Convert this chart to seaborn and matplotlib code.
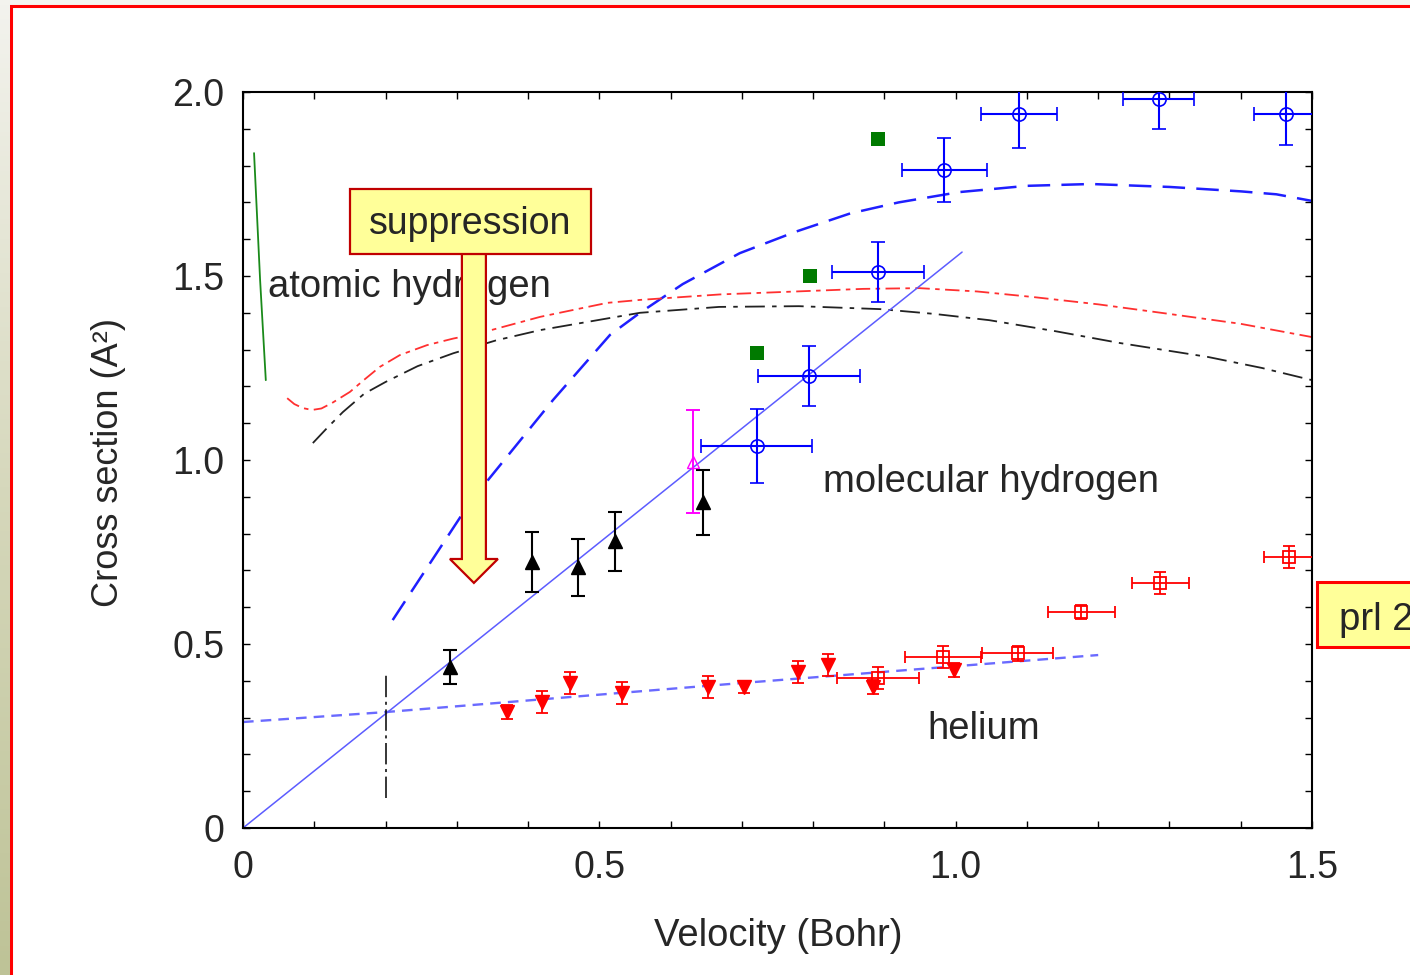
import numpy as np
import pandas as pd
import matplotlib
matplotlib.use("Agg")
import matplotlib.pyplot as plt
from matplotlib.patches import Rectangle, FancyArrow
from matplotlib.colors import LinearSegmentedColormap
from matplotlib.ticker import FixedLocator, MultipleLocator
import seaborn as sns

# ---------------- data ----------------
# molecular hydrogen, blue open circles
mol_v = [0.721, 0.794, 0.891, 0.984, 1.089, 1.285, 1.463]
mol_c = [1.038, 1.228, 1.511, 1.788, 1.940, 1.980, 1.940]
mol_verr = [0.078, 0.072, 0.065, 0.060, 0.053, 0.050, 0.045]
mol_cerr = [0.100, 0.082, 0.082, 0.088, 0.093, 0.080, 0.085]

# green squares
green_v = [0.721, 0.796, 0.891]
green_c = [1.290, 1.500, 1.872]

# black triangles
tri_v = [0.290, 0.405, 0.470, 0.522, 0.645]
tri_c = [0.437, 0.723, 0.708, 0.779, 0.885]
tri_err = [0.046, 0.082, 0.078, 0.080, 0.088]

# magenta open triangle
mag_v = [0.631]
mag_c = [0.995]
mag_err = [0.140]

# helium, red down triangles
he_v = [0.370, 0.419, 0.459, 0.532, 0.652, 0.703, 0.779, 0.821, 0.884, 0.998]
he_c = [0.315, 0.342, 0.394, 0.367, 0.383, 0.383, 0.424, 0.443, 0.383, 0.429]
he_err = [0.018, 0.030, 0.030, 0.030, 0.030, 0.015, 0.030, 0.030, 0.020, 0.020]

# helium, red open squares
hesq_v = [0.891, 0.982, 1.087, 1.176, 1.287, 1.468]
hesq_c = [0.408, 0.465, 0.475, 0.587, 0.666, 0.737]
hesq_verr = [0.058, 0.053, 0.050, 0.047, 0.040, 0.035]
hesq_cerr = [0.030, 0.030, 0.020, 0.020, 0.030, 0.030]

# theory curves
mh_curve_v = [0.21, 0.305, 0.344, 0.435, 0.515, 0.557, 0.617, 0.697, 0.775,
              0.852, 0.92, 1.005, 1.10, 1.19, 1.30, 1.40, 1.45, 1.50]
mh_curve_c = [0.565, 0.845, 0.946, 1.163, 1.340, 1.400, 1.478, 1.562, 1.620,
              1.670, 1.700, 1.728, 1.745, 1.750, 1.742, 1.730, 1.722, 1.704]

red_curve_v = [0.062, 0.072, 0.084, 0.097, 0.110, 0.125, 0.150, 0.170, 0.192,
               0.220, 0.258, 0.295, 0.333, 0.417, 0.511, 0.557, 0.670, 0.790,
               0.870, 0.949, 1.030, 1.108, 1.200, 1.292, 1.400, 1.500]
red_curve_c = [1.168, 1.152, 1.141, 1.136, 1.140, 1.155, 1.185, 1.218, 1.253,
               1.285, 1.312, 1.330, 1.345, 1.389, 1.427, 1.435, 1.450, 1.459,
               1.465, 1.467, 1.458, 1.443, 1.423, 1.399, 1.370, 1.334]

blk_curve_v = [0.098, 0.118, 0.140, 0.170, 0.200, 0.245, 0.295, 0.355, 0.417,
               0.557, 0.668, 0.780, 0.894, 0.970, 1.047, 1.140, 1.230, 1.354,
               1.430, 1.500]
blk_curve_c = [1.046, 1.087, 1.130, 1.180, 1.212, 1.255, 1.290, 1.325, 1.353,
               1.400, 1.416, 1.418, 1.410, 1.397, 1.380, 1.350, 1.318, 1.280,
               1.250, 1.217]

green_curve_v = [0.0155, 0.024, 0.032]
green_curve_c = [1.834, 1.489, 1.217]

he_fit_v = [0.0, 0.2, 0.7, 1.2]
he_fit_c = [0.288, 0.315, 0.394, 0.470]

lin_fit_v = [0.0, 1.009]
lin_fit_c = [0.0, 1.565]

# threshold marker
thr_v = 0.2
thr_c = [0.082, 0.416]

x_ticks = [0, 0.5, 1.0, 1.5]
x_ticklabels = ["0", "0.5", "1.0", "1.5"]
y_ticks = [0, 0.5, 1.0, 1.5, 2.0]
y_ticklabels = ["0", "0.5", "1.0", "1.5", "2.0"]

# ---------------- style ----------------
sns.set_style("ticks")
plt.rcParams["font.family"] = ["Liberation Sans", "DejaVu Sans"]

W, H = 1410, 975
fig = plt.figure(figsize=(W / 100, H / 100), dpi=100)
fig.patch.set_facecolor("#f4f4f0")

# slide background with red frame
fig.add_artist(Rectangle((11 / W, -0.05), 1.2, (H - 6) / H + 0.05,
                         transform=fig.transFigure, facecolor="white",
                         edgecolor="#ff0000", linewidth=2.2, zorder=-2))

# olive strip at the left edge
strip = fig.add_axes([0, 0, 10 / W, 1])
cmap = LinearSegmentedColormap.from_list("strip", ["#f3f3ee", "#d6d8bc", "#bec397"])
strip.imshow(np.linspace(0, 1, 200).reshape(-1, 1), aspect="auto", cmap=cmap)
strip.set_axis_off()

ax = fig.add_axes([243 / W, (H - 828) / H, (1312 - 243) / W, (828 - 92) / H])

# theory curves
sns.lineplot(x=mh_curve_v, y=mh_curve_c, ax=ax, color="#1f1fff", lw=1.8,
             linestyle=(0, (9, 4.5)), estimator=None)
sns.lineplot(x=red_curve_v, y=red_curve_c, ax=ax, color="#ff3030", lw=1.3,
             linestyle=(0, (8, 3, 2.5, 3)), estimator=None)
sns.lineplot(x=blk_curve_v, y=blk_curve_c, ax=ax, color="#222222", lw=1.3,
             linestyle=(0, (11, 4, 2.5, 4)), estimator=None)
sns.lineplot(x=green_curve_v, y=green_curve_c, ax=ax, color="#1a8a1a", lw=1.3,
             estimator=None)
sns.lineplot(x=he_fit_v, y=he_fit_c, ax=ax, color="#6a6aff", lw=1.7,
             linestyle=(0, (4.5, 3)), estimator=None)
sns.lineplot(x=lin_fit_v, y=lin_fit_c, ax=ax, color="#5c5cff", lw=1.1,
             estimator=None)
ax.vlines(thr_v, thr_c[0], thr_c[1], color="black", lw=1.1,
          linestyles=[(0, (14, 3, 2, 3))])

# data points
ax.errorbar(mol_v, mol_c, xerr=mol_verr, yerr=mol_cerr, fmt="o", ms=9.5,
            mfc="none", mec="#0000ff", mew=1.2, color="#0000ff",
            elinewidth=1.5, capsize=5, capthick=1.5, zorder=4)
sns.scatterplot(x=green_v, y=green_c, ax=ax, marker="s", s=105,
                color="#007a00", edgecolor="none", zorder=4)
ax.errorbar(tri_v, tri_c, yerr=tri_err, fmt="^", ms=10.5, color="black",
            elinewidth=1.5, capsize=5, capthick=1.5, zorder=4)
ax.errorbar(mag_v, mag_c, yerr=mag_err, fmt="^", ms=8.5, mfc="none",
            mec="#ff00ff", color="#ff00ff", elinewidth=1.4, capsize=5,
            capthick=1.4, zorder=4)
ax.errorbar(he_v, he_c, yerr=he_err, fmt="v", ms=9.5, color="#ff0000",
            elinewidth=1.3, capsize=4.5, capthick=1.3, zorder=4)
ax.errorbar(hesq_v, hesq_c, xerr=hesq_verr, yerr=hesq_cerr, fmt="s", ms=9,
            mfc="none", mec="#ff0000", mew=1.3, color="#ff0000",
            elinewidth=1.3, capsize=4.5, capthick=1.3, zorder=4)

# labels inside the plot
ax.text(0.035, 1.443, "atomic hydrogen", fontsize=27.5, va="baseline", zorder=3)
ax.text(0.814, 0.913, "molecular hydrogen", fontsize=27.5, va="baseline", zorder=3)
ax.text(0.961, 0.242, "helium", fontsize=27.5, va="baseline", zorder=3)

# suppression arrow and box
ax.add_patch(FancyArrow(0.324, 1.56, 0, -0.894, width=0.0337,
                        head_width=0.0673, head_length=0.065,
                        length_includes_head=True, facecolor="#ffff99",
                        edgecolor="#c00000", linewidth=1.6, zorder=6))
ax.add_patch(Rectangle((0.150, 1.560), 0.338, 0.176, facecolor="#ffff99",
                       edgecolor="#c00000", linewidth=1.6, zorder=6))
ax.text(0.3185, 1.614, "suppression", fontsize=27, ha="center",
        va="baseline", zorder=7)

# axes, ticks
ax.set_xlim(0, 1.5)
ax.set_ylim(0, 2.0)
ax.xaxis.set_major_locator(FixedLocator(x_ticks))
ax.yaxis.set_major_locator(FixedLocator(y_ticks))
ax.set_xticklabels(x_ticklabels)
ax.set_yticklabels(y_ticklabels)
ax.xaxis.set_minor_locator(MultipleLocator(0.1))
ax.yaxis.set_minor_locator(MultipleLocator(0.1))
ax.tick_params(which="both", direction="in", top=True, right=True,
               length=5, width=1.0, color="black")
ax.tick_params(axis="x", which="major", labelsize=27, pad=15.5)
ax.tick_params(axis="y", which="major", labelsize=27, pad=13.5)
for sp in ax.spines.values():
    sp.set_linewidth(1.5)
    sp.set_color("black")

ax.set_xlabel("Velocity (Bohr)", fontsize=27.5)
ax.set_ylabel("Cross section (A\u00b2)", fontsize=26)
ax.xaxis.set_label_coords(0.5005, (828 - 918) / 736)
ax.yaxis.set_label_coords((126 - 243) / 1069, 0.496)

# side note box at the right edge (cut off by the slide edge, as in the original)
fig.add_artist(Rectangle((1317 / W, (H - 647) / H), 0.2, 65 / H,
                         transform=fig.transFigure, facecolor="#ffff99",
                         edgecolor="#ff0000", linewidth=2.2, zorder=5))
fig.text(1339 / W, (H - 630) / H, "prl 2", fontsize=27.5, va="baseline",
         zorder=6)

fig.savefig("out.png", dpi=100, facecolor=fig.get_facecolor())
